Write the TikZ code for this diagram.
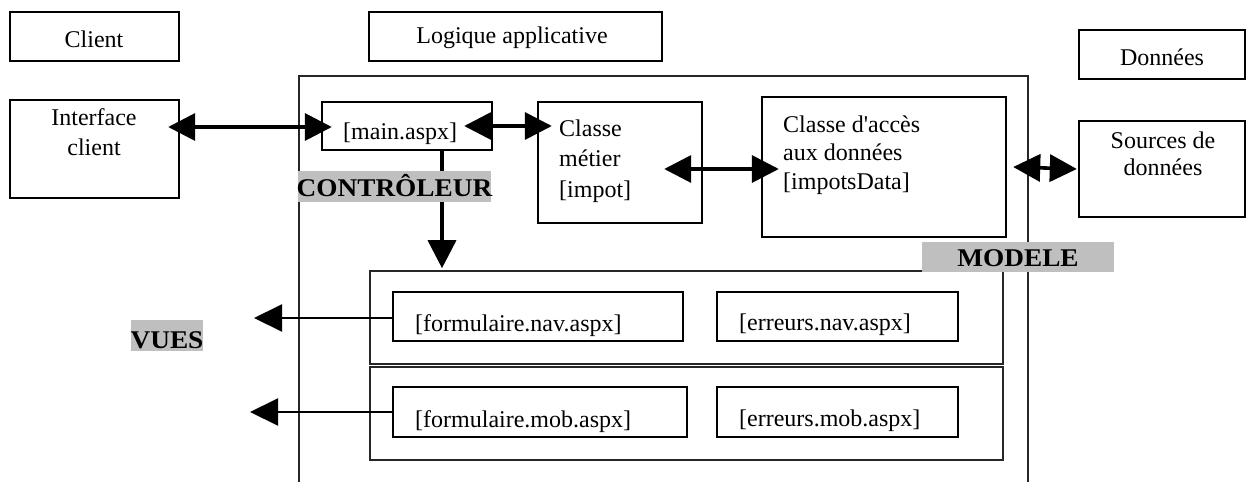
\documentclass[tikz,border=0pt]{standalone}
\usepackage{fontspec}
\setmainfont{Liberation Serif}[Ligatures=TeXOff]
\newfontfamily\widebf{Liberation Serif}[FakeStretch=1.07,Ligatures=TeXOff]
\usetikzlibrary{arrows.meta,calc}
\begin{document}
\begin{tikzpicture}[x=1pt,y=-1pt,
  font=\fontsize{24}{29}\selectfont,
  box/.style={draw, line width=2.4pt, inner sep=0pt},
  thinbox/.style={draw=black!85, line width=1.6pt, inner sep=0pt},
  lbl/.style={inner sep=0pt, anchor=base},
  lbll/.style={inner sep=0pt, anchor=base west},
  graybg/.style={fill=black!25, inner sep=0pt},
  tag/.style={inner sep=0pt, anchor=base, font=\fontsize{25.5}{29}\selectfont\widebf\bfseries},
  conn/.style={line width=3.6pt, {Triangle[length=27pt,width=27pt]}-{Triangle[length=27pt,width=27pt]}},
  down/.style={line width=3.6pt, -{Triangle[length=28pt,width=28pt]}},
  viewarrow/.style={line width=2pt, -{Triangle[length=28pt,width=27pt]}}
]
\useasboundingbox (0,0) rectangle (1251,482);

% outer frame of the application logic (open at the bottom of the page)
\node[thinbox, minimum width=729pt, minimum height=420pt] (frame) at (663.5,286) {};

% header boxes
\node[box, minimum width=169pt, minimum height=49pt] (client) at (94.5,36.5) {};
\node[box, minimum width=293pt, minimum height=49pt] (logique) at (515.5,36.5) {};
\node[box, minimum width=166pt, minimum height=49pt] (donnees) at (1162,54.5) {};

% main boxes
\node[box, minimum width=169pt, minimum height=98pt] (interface) at (94.5,149) {};
\node[box, minimum width=170pt, minimum height=48pt] (main) at (407,126) {};
\node[box, minimum width=164pt, minimum height=121pt] (metier) at (620,162.5) {};
\node[box, minimum width=244pt, minimum height=140pt] (acces) at (884,167) {};
\node[box, minimum width=166pt, minimum height=96pt] (sources) at (1162,169) {};

% view containers
\node[thinbox, minimum width=633pt, minimum height=93pt] (navbox) at (686.5,317.5) {};
\node[thinbox, minimum width=633pt, minimum height=93pt] (mobbox) at (686.5,413.5) {};
\node[box, minimum width=290pt, minimum height=49pt] (fnav) at (538,316.5) {};
\node[box, minimum width=241pt, minimum height=49pt] (enav) at (837.5,316.5) {};
\node[box, minimum width=294pt, minimum height=50pt] (fmob) at (540,412) {};
\node[box, minimum width=241pt, minimum height=50pt] (emob) at (837.5,412) {};

% connectors
\draw[conn] ($(interface.east |- main.west)+(-12,1)$) -- ($(main.west)+(11,1)$);
\draw[conn] ($(main.east)+(-29,0)$) -- ($(main.east -| metier.west)+(15,0)$);
\draw[conn] ($(metier.east |- acces.west)+(-39,2)$) -- ($(acces.west)+(18,2)$);
\draw[conn] ($(acces.east)+(6,0)$) -- ($(sources.west)+(-1,0)$);
\coordinate (d1) at ($(main.south)+(35,0)$);
\draw[down] (d1) -- ($(d1 |- navbox.north)+(0,-2)$);
\coordinate (v1) at (254,318);
\coordinate (v2) at (250,412);
\draw[viewarrow] ($(fnav.west)+(0,1.5)$) -- (v1);
\draw[viewarrow] (fmob.west) -- (v2);

% gray tags
\node[graybg, minimum width=193pt, minimum height=31pt] (ctrlbg) at (394.5,186.5) {};
\node[graybg, minimum width=192pt, minimum height=30pt] (modbg) at (1018,257) {};
\node[graybg, minimum width=72pt, minimum height=31pt] (vuebg) at (167,335.5) {};
\node[tag] (ctrl) at (394.5,196) {CONTRÔLEUR};
\node[tag] (mod) at (1018,266) {MODELE};
\node[tag] (vues) at (167,348) {VUES};

% texts
\node[lbl] (tclient) at (94,47) {Client};
\node[lbl] (tlog) at (512,43) {Logique applicative};
\node[lbl] (tdon) at (1162,65) {Données};
\node[lbl] (tif1) at (94,125) {Interface};
\node[lbl] (tif2) at (94,155) {client};
\node[lbll] (tmain) at (343,139) {[main.aspx]};
\node[lbll] (tm1) at (559,136) {Classe};
\node[lbll] (tm2) at (559,166) {métier};
\node[lbll] (tm3) at (559,197) {[impot]};
\node[lbll] (ta1) at (783,132) {Classe d'accès};
\node[lbll] (ta2) at (783,160) {aux données};
\node[lbll] (ta3) at (783,189) {[impotsData]};
\node[lbl] (ts1) at (1163,148) {Sources de};
\node[lbl] (ts2) at (1163,175) {données};
\node[lbll] (tfn) at (415,331) {[formulaire.nav.aspx]};
\node[lbll] (ten) at (739,330) {[erreurs.nav.aspx]};
\node[lbll] (tfm) at (415,427) {[formulaire.mob.aspx]};
\node[lbll] (tem) at (739,426) {[erreurs.mob.aspx]};
\end{tikzpicture}
\end{document}
